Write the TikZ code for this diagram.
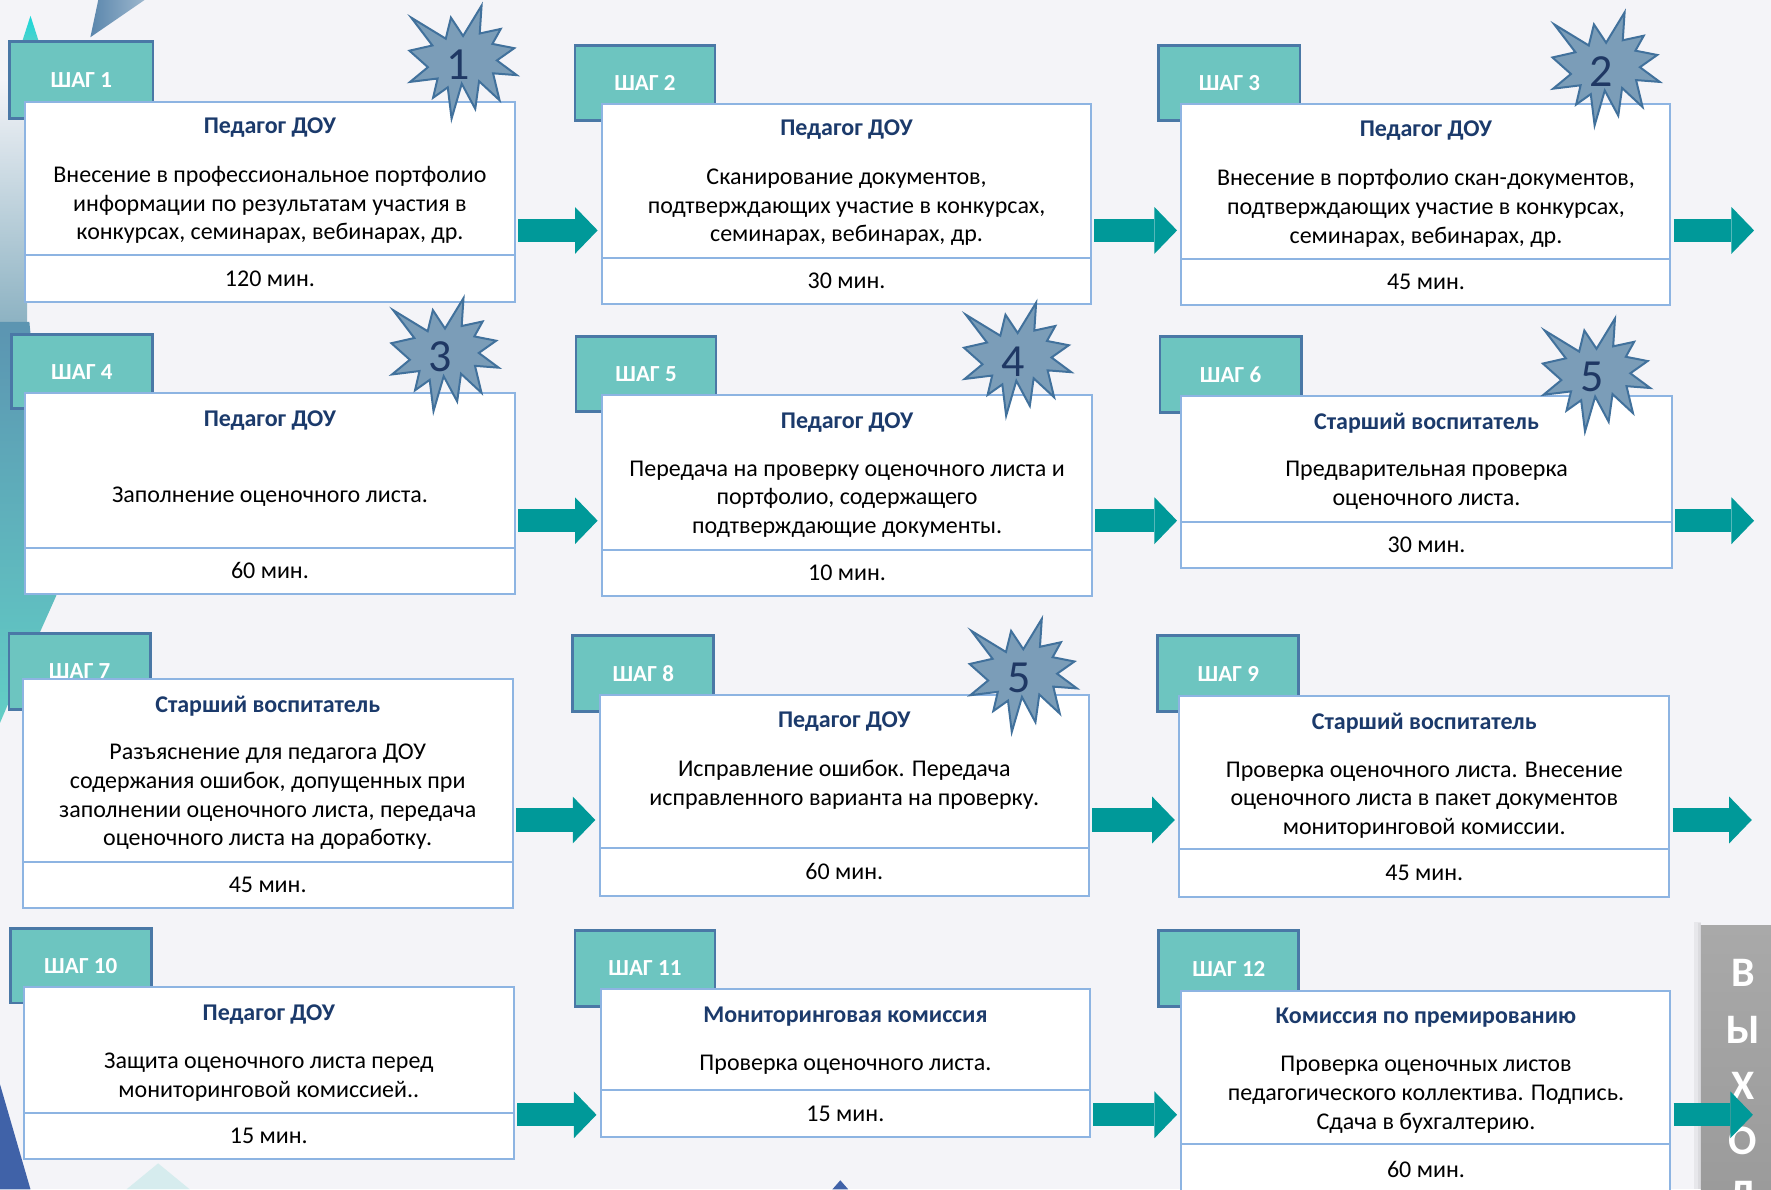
\documentclass[tikz,border=0pt]{standalone}
\usepackage{fontspec}
\setmainfont{Carlito}
\usetikzlibrary{fit,arrows.meta}
\definecolor{bgc}{HTML}{F4F4F8}
\definecolor{tabfill}{HTML}{6DC5C0}
\definecolor{tabline}{HTML}{4A78A6}
\definecolor{boxline}{HTML}{8DB4E2}
\definecolor{navy}{HTML}{1B3A6B}
\definecolor{arrowc}{HTML}{009999}
\definecolor{burstfill}{HTML}{7B9DB8}
\definecolor{burstline}{HTML}{41719C}
\definecolor{numc}{HTML}{1F3864}
\definecolor{exittop}{HTML}{A9A9A9}
\definecolor{exitbot}{HTML}{9A9A9A}
\definecolor{decoblue}{HTML}{4062A8}
\definecolor{decosteel}{HTML}{5A86AC}
\definecolor{decoteal}{HTML}{62CEC6}
\definecolor{decocyan}{HTML}{18D8DA}
\definecolor{decogray}{HTML}{86AEBF}

\tikzset{
  tabbox/.style={draw=tabline, line width=1.4pt, fill=tabfill, inner sep=0pt},
  tabtext/.style={text=white, inner sep=0pt, font=\fontsize{11.5}{13}\selectfont\bfseries},
  cardbox/.style={draw=boxline, line width=1pt, fill=white, inner sep=0pt},
  timetext/.style={inner sep=0pt, font=\fontsize{12}{14.4}\selectfont},
  cardtitle/.style={text=navy, inner sep=0pt, yshift=-1.13pt, font=\fontsize{12}{14.4}\selectfont\bfseries},
  cardbody/.style={align=center, inner sep=0pt, yshift=-1.13pt, font=\fontsize{12}{14.4}\selectfont},
  flow/.style={draw=arrowc, line width=11.6pt,
    -{Triangle[length=11.3pt,width=23.4pt,line width=0pt]},
    shorten <=1.1pt, shorten >=1.7pt},
  burstnum/.style={text=numc, inner sep=0pt, font=\fontsize{23}{24}\selectfont},
  exitletter/.style={text=white, inner sep=0pt, font=\fontsize{21}{22}\selectfont\bfseries},
  exitbox/.style={inner sep=0pt, top color=exittop, bottom color=exitbot},
  burst/.pic={
    \path[draw=burstline, line width=1pt, fill=burstfill, line join=miter, xscale=95, yscale=100]
      (0,-0.2315) -- (0.1723,-0.5) -- (0.1553,-0.2535) -- (0.3509,-0.2937)
      -- (0.2732,-0.1613) -- (0.4767,-0.1233) -- (0.3151,-0.015) -- (0.5,0.1153)
      -- (0.2795,0.0992) -- (0.3400,0.3377) -- (0.1491,0.1693) -- (0.1133,0.4138)
      -- (-0.0124,0.1914) -- (-0.1072,0.5) -- (-0.1428,0.2235) -- (-0.2795,0.3156)
      -- (-0.2376,0.1452) -- (-0.4938,0.1753) -- (-0.3277,0.0451) -- (-0.5,-0.1012)
      -- (-0.2858,-0.1474) -- (-0.4829,-0.3937) -- (-0.1615,-0.2074) -- (-0.1133,-0.3937)
      -- cycle;
  }
}

\begin{document}
\begin{tikzpicture}[x=0.56475pt, y=-0.56475pt]
\useasboundingbox (0,0) rectangle (1568,1053);
\clip (0,0) rectangle (1568,1053);
\fill[bgc] (0,0) rectangle (1568,1053);

% background decorations
\shade[top color=bgc, bottom color=decogray] (0,70) -- (24,70) -- (24,300) -- (0,300) -- cycle;
\shade[top color=decosteel!80!decoteal, bottom color=decoteal] (0,285) -- (26,285) -- (50,527) -- (12,612) -- (0,640) -- cycle;
\fill[decoblue] (0,960) -- (27,1053) -- (0,1053) -- cycle;
\shade[left color=decosteel, right color=decosteel!60!white] (80,33) -- (87,0) -- (128,0) -- cycle;
\shade[top color=decocyan, bottom color=decoteal] (27,14) -- (37,45) -- (17,45) -- cycle;
\fill[decoblue] (737,1053) -- (744,1045) -- (751,1053) -- cycle;
\fill[decoteal, opacity=0.2] (112,1053) -- (140,1030) -- (168,1053) -- cycle;

% exit box
\fill[black, opacity=0.05] (1500,816) rectangle (1506,1053);
\fill[black, opacity=0.05] (1503,817) rectangle (1506,1053);
\node[exitbox, fit={(1506,819) (1580,1070)}] (exit) {};
\node[exitletter] (x1) at (1543,861) {В};
\node[exitletter] (x2) at (1543,912) {Ы};
\node[exitletter] (x3) at (1543,961) {Х};
\node[exitletter] (x4) at (1543,1010) {О};
\node[exitletter] (x5) at (1543,1061) {Д};

% Step 1
\node[tabbox, fit={(8.5,37) (135.5,105)}] (t1) {};
\node[tabtext] (s1) at (t1) {ШАГ 1};
\node[cardbox, fit={(22,90) (456,226)}] (b1) {};
\node[cardbox, fit={(22,226) (456,267)}] (c1) {};
\node[timetext] (m1) at (c1) {120 мин.};
\node[cardtitle] (h1) at (239,111) {Педагог ДОУ};
\node[cardbody] (p1) at (239,179.5) {Внесение в профессиональное портфолио\\информации по результатам участия в\\конкурсах, семинарах, вебинарах, др.};

% Step 2
\node[tabbox, fit={(509,40) (633,107)}] (t2) {};
\node[tabtext] (s2) at (t2) {ШАГ 2};
\node[cardbox, fit={(533,92) (966,228)}] (b2) {};
\node[cardbox, fit={(533,228) (966,269)}] (c2) {};
\node[timetext] (m2) at (c2) {30 мин.};
\node[cardtitle] (h2) at (749.5,113) {Педагог ДОУ};
\node[cardbody] (p2) at (749.5,181.5) {Сканирование документов,\\подтверждающих участие в конкурсах,\\семинарах, вебинарах, др.};

% Step 3
\node[tabbox, fit={(1026,40) (1151,107)}] (t3) {};
\node[tabtext] (s3) at (t3) {ШАГ 3};
\node[cardbox, fit={(1046,92) (1479,229)}] (b3) {};
\node[cardbox, fit={(1046,229) (1479,270)}] (c3) {};
\node[timetext] (m3) at (c3) {45 мин.};
\node[cardtitle] (h3) at (1262.5,114) {Педагог ДОУ};
\node[cardbody] (p3) at (1262.5,182.5) {Внесение в портфолио скан-документов,\\подтверждающих участие в конкурсах,\\семинарах, вебинарах, др.};

% Step 4
\node[tabbox, fit={(10,296) (135,362)}] (t4) {};
\node[tabtext] (s4) at (t4) {ШАГ 4};
\node[cardbox, fit={(22,348) (456,485)}] (b4) {};
\node[cardbox, fit={(22,485) (456,526)}] (c4) {};
\node[timetext] (m4) at (c4) {60 мин.};
\node[cardtitle] (h4) at (239,370) {Педагог ДОУ};
\node[cardbody] (p4) at (239,438) {Заполнение оценочного листа.};

% Step 5
\node[tabbox, fit={(510,298) (634,364)}] (t5) {};
\node[tabtext] (s5) at (t5) {ШАГ 5};
\node[cardbox, fit={(533,350) (967,487)}] (b5) {};
\node[cardbox, fit={(533,487) (967,528)}] (c5) {};
\node[timetext] (m5) at (c5) {10 мин.};
\node[cardtitle] (h5) at (750,372) {Педагог ДОУ};
\node[cardbody] (p5) at (750,440) {Передача на проверку оценочного листа и\\портфолио, содержащего\\подтверждающие документы.};

% Step 6
\node[tabbox, fit={(1027,298) (1152,365)}] (t6) {};
\node[tabtext] (s6) at (t6) {ШАГ 6};
\node[cardbox, fit={(1046,351) (1480,462)}] (b6) {};
\node[cardbox, fit={(1046,462) (1480,503)}] (c6) {};
\node[timetext] (m6) at (c6) {30 мин.};
\node[cardtitle] (h6) at (1263,373) {Старший воспитатель};
\node[cardbody] (p6) at (1263,427.5) {Предварительная проверка\\оценочного листа.};

% Step 7
\node[tabbox, fit={(8,561) (133,628)}] (t7) {};
\node[tabtext] (s7) at (t7) {ШАГ 7};
\node[cardbox, fit={(20,601) (454,763)}] (b7) {};
\node[cardbox, fit={(20,763) (454,804)}] (c7) {};
\node[timetext] (m7) at (c7) {45 мин.};
\node[cardtitle] (h7) at (237,623) {Старший воспитатель};
\node[cardbody] (p7) at (237,703.5) {Разъяснение для педагога ДОУ\\содержания ошибок, допущенных при\\заполнении оценочного листа, передача\\оценочного листа на доработку.};

% Step 8
\node[tabbox, fit={(507,563) (632,630)}] (t8) {};
\node[tabtext] (s8) at (t8) {ШАГ 8};
\node[cardbox, fit={(531,615) (964,751)}] (b8) {};
\node[cardbox, fit={(531,751) (964,793)}] (c8) {};
\node[timetext] (m8) at (c8) {60 мин.};
\node[cardtitle] (h8) at (747.5,637) {Педагог ДОУ};
\node[cardbody] (p8) at (747.5,692.5) {Исправление ошибок. Передача\\исправленного варианта на проверку.};

% Step 9
\node[tabbox, fit={(1025,563) (1150,630)}] (t9) {};
\node[tabtext] (s9) at (t9) {ШАГ 9};
\node[cardbox, fit={(1044,616) (1478,752)}] (b9) {};
\node[cardbox, fit={(1044,752) (1478,794)}] (c9) {};
\node[timetext] (m9) at (c9) {45 мин.};
\node[cardtitle] (h9) at (1261,638) {Старший воспитатель};
\node[cardbody] (p9) at (1261,706.5) {Проверка оценочного листа. Внесение\\оценочного листа в пакет документов\\мониторинговой комиссии.};

% Step 10
\node[tabbox, fit={(9,822) (134,888)}] (t10) {};
\node[tabtext] (s10) at (t10) {ШАГ 10};
\node[cardbox, fit={(21,874) (455,985)}] (b10) {};
\node[cardbox, fit={(21,985) (455,1026)}] (c10) {};
\node[timetext] (m10) at (c10) {15 мин.};
\node[cardtitle] (h10) at (238,896) {Педагог ДОУ};
\node[cardbody] (p10) at (238,952) {Защита оценочного листа перед\\мониторинговой комиссией..};

% Step 11
\node[tabbox, fit={(509,824) (633,891)}] (t11) {};
\node[tabtext] (s11) at (t11) {ШАГ 11};
\node[cardbox, fit={(532,876) (965,965)}] (b11) {};
\node[cardbox, fit={(532,965) (965,1007)}] (c11) {};
\node[timetext] (m11) at (c11) {15 мин.};
\node[cardtitle] (h11) at (748.5,898) {Мониторинговая комиссия};
\node[cardbody] (p11) at (748.5,941) {Проверка оценочного листа.};

% Step 12
\node[tabbox, fit={(1026,824) (1150,891)}] (t12) {};
\node[tabtext] (s12) at (t12) {ШАГ 12};
\node[cardbox, fit={(1046,877) (1479,1013)}] (b12) {};
\node[cardbox, fit={(1046,1013) (1479,1057)}] (c12) {};
\node[timetext] (m12) at (1262.5,1035) {60 мин.};
\node[cardtitle] (h12) at (1262.5,899) {Комиссия по премированию};
\node[cardbody] (p12) at (1262.5,967.5) {Проверка оценочных листов\\педагогического коллектива. Подпись.\\Сдача в бухгалтерию.};

% arrows
\coordinate (r1) at (0,204);
\coordinate (r2) at (0,461);
\coordinate (r3) at (0,726);
\coordinate (r4) at (0,987);
\coordinate (e1) at (1556,204);
\coordinate (e2) at (1556,461);
\coordinate (e3) at (1554,726);
\coordinate (e4) at (1555,987);
\draw[flow] (b1.east |- r1) -- (b2.west |- r1);
\draw[flow] (b2.east |- r1) -- (b3.west |- r1);
\draw[flow] (b3.east |- r1) -- (e1);
\draw[flow] (b4.east |- r2) -- (b5.west |- r2);
\draw[flow] (b5.east |- r2) -- (b6.west |- r2);
\draw[flow] (b6.east |- r2) -- (e2);
\draw[flow] (b7.east |- r3) -- (b8.west |- r3);
\draw[flow] (b8.east |- r3) -- (b9.west |- r3);
\draw[flow] (b9.east |- r3) -- (e3);
\draw[flow] (c10.east |- r4) -- (b11.west |- r4);
\draw[flow] (b11.east |- r4) -- (c12.west |- r4);
\draw[flow] (c12.east |- r4) -- (e4);

% bursts
\pic at (410,55) {burst};
\node[burstnum] (n1) at (406,57) {1};
\pic at (1422,61) {burst};
\node[burstnum] (n2) at (1418,63) {2};
\pic at (394,314) {burst};
\node[burstnum] (n3) at (390,316) {3};
\pic at (901,318) {burst};
\node[burstnum] (n4) at (897,320) {4};
\pic at (1413.5,332) {burst};
\node[burstnum] (n5) at (1409.5,334) {5};
\pic at (906,598) {burst};
\node[burstnum] (n6) at (902,600) {5};
\end{tikzpicture}
\end{document}
